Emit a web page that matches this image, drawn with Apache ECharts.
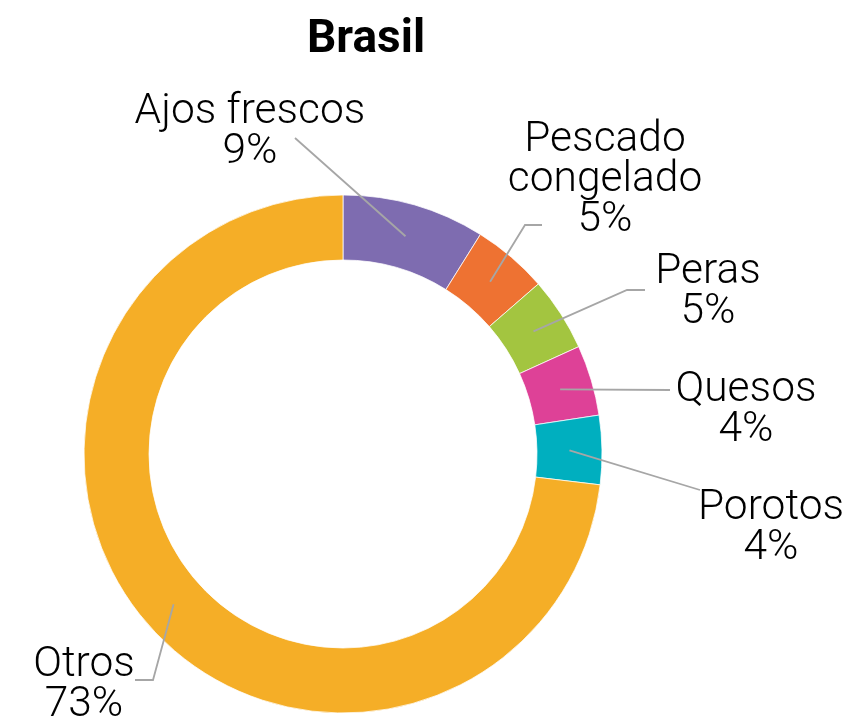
<!DOCTYPE html>
<html>
<head>
<meta charset="utf-8">
<title>Brasil</title>
<script src="https://cdn.jsdelivr.net/npm/echarts@6/dist/echarts.min.js"></script>
<style>
  html, body { margin: 0; padding: 0; background: #fff; }
  #chart { width: 852px; height: 721px; }
</style>
</head>
<body>
<div id="chart"></div>
<script>
// datos del gráfico
const categories = ['Ajos frescos', 'Pescado congelado', 'Peras', 'Quesos', 'Porotos', 'Otros']
const shares = [8.9, 4.7, 4.6, 4.4, 4.3, 73.1]
const sliceColors = ['#7e6cb0', '#ee7232', '#a3c540', '#de4197', '#00afbf', '#f5ae27']

// geometría del anillo
const CENTER = [343, 454]
const RADIUS = [194, 259]

// dónde va cada etiqueta y el final de su línea guía
const labelSpots = [
  { x: 250, y: 130, guide: [[295, 138]] },
  { x: 605, y: 178, guide: [[525, 225], [542, 225]] },
  { x: 708, y: 290, guide: [[627, 290], [645, 290]] },
  { x: 746, y: 408, guide: [[670, 390]] },
  { x: 771, y: 526, guide: [[700, 490]] },
  { x: 84, y: 683, guide: [[153, 680], [135, 680]] }
]

const total = shares.reduce((a, b) => a + b, 0)
const midAngles = []
let acc = 0
shares.forEach(v => {
  midAngles.push((acc + v / 2) / total * Math.PI * 2)
  acc += v
})

const chart = echarts.init(document.getElementById('chart'))
const option = {
  animation: false,
  title: {
    text: 'Brasil',
    left: 307,
    top: 18,
    padding: 0,
    textStyle: {
      fontFamily: 'Roboto',
      fontWeight: 'bold',
      fontSize: 46,
      lineHeight: 45,
      color: '#000'
    }
  },
  series: [
    // el anillo de colores
    {
      type: 'pie',
      z: 2,
      center: CENTER,
      radius: RADIUS,
      startAngle: 90,
      clockwise: true,
      label: { show: false },
      labelLine: { show: false },
      itemStyle: {
        borderColor: '#fff',
        borderWidth: 0.75
      },
      data: categories.map((name, i) => ({
        name: name,
        value: shares[i],
        itemStyle: { color: sliceColors[i] }
      }))
    },
    // mismas porciones, invisibles, solo para etiquetas y líneas guía encima del anillo
    {
      type: 'pie',
      z: 3,
      silent: true,
      center: CENTER,
      radius: RADIUS,
      startAngle: 90,
      clockwise: true,
      avoidLabelOverlap: false,
      itemStyle: {
        color: 'rgba(0,0,0,0)',
        borderWidth: 0
      },
      label: {
        show: true,
        position: 'outside',
        overflow: 'none',
        fontFamily: "'Roboto Light', Roboto",
        fontWeight: 300,
        fontSize: 42.5,
        lineHeight: 40,
        color: '#000',
        formatter: function (p) {
          const name = p.name.length > 14 ? p.name.replace(' ', '\n') : p.name
          return name + '\n' + Math.round(p.percent) + '%'
        }
      },
      labelLine: {
        show: true,
        showAbove: true,
        lineStyle: {
          color: '#a6a6a6',
          width: 1.8,
          opacity: 1
        }
      },
      labelLayout: function (params) {
        const i = params.dataIndex
        const spot = labelSpots[i]
        const rMid = (RADIUS[0] + RADIUS[1]) / 2
        const a = midAngles[i]
        const start = [CENTER[0] + rMid * Math.sin(a), CENTER[1] - rMid * Math.cos(a)]
        return {
          x: spot.x,
          y: spot.y,
          align: 'center',
          verticalAlign: 'middle',
          labelLinePoints: [start].concat(spot.guide)
        }
      },
      data: categories.map((name, i) => ({
        name: name,
        value: shares[i]
      }))
    }
  ]
}
chart.setOption(option)
</script>
</body>
</html>
